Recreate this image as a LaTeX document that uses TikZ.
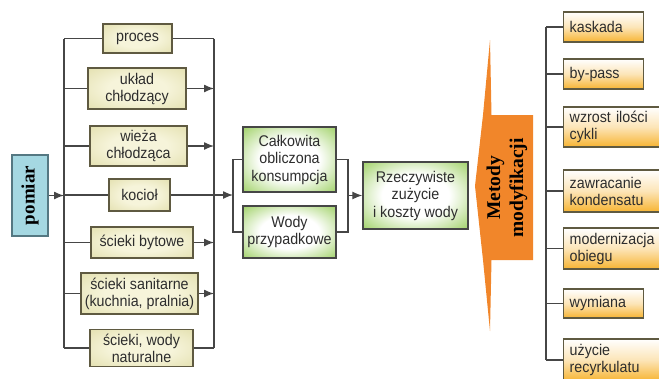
\documentclass[tikz,border=0pt]{standalone}
\usepackage{fontspec}
\setmainfont[FakeStretch=0.92]{Liberation Sans}
\newfontfamily\serifbf{Liberation Serif}
\usetikzlibrary{arrows.meta}
\definecolor{txt}{RGB}{45,45,45}
\definecolor{linec}{RGB}{70,70,70}
\definecolor{khaki}{RGB}{220,216,158}
\definecolor{khakil}{RGB}{246,244,218}
\definecolor{khakib}{RGB}{95,90,65}
\definecolor{grn}{RGB}{120,190,40}
\definecolor{orng}{RGB}{241,134,42}
\definecolor{yel}{RGB}{247,180,50}
\definecolor{blu}{RGB}{165,216,226}
\definecolor{blub}{RGB}{85,120,130}
\pgfdeclareradialshading{kshade}{\pgfpoint{0bp}{0bp}}{color(0bp)=(khakil); color(15bp)=(khakil); color(45bp)=(khaki); color(70bp)=(khaki)}
\pgfdeclareradialshading{gshade}{\pgfpoint{0bp}{0bp}}{color(0bp)=(white); color(16bp)=(white); color(44bp)=(grn); color(70bp)=(grn)}
\begin{document}
\begin{tikzpicture}[x=1pt,y=-1pt,
  font=\fontsize{15.5}{17}\selectfont,
  conn/.style={draw=linec, line width=1.3pt},
  arr/.style={conn, -{Latex[length=10pt,width=8pt]}},
  lbox/.style={draw=khakib, line width=1.4pt, shading=kshade, text=txt, align=center, inner sep=0pt},
  gbox/.style={draw=linec, line width=1.4pt, shading=gshade, text=txt, align=center, inner sep=0pt,
    font=\fontsize{15.5}{17.5}\selectfont},
  rbox/.style={draw=khakib, line width=1.4pt, top color=white, bottom color=yel, middle color=white!65!yel,
    text=txt, align=left, inner xsep=6pt, inner ysep=0pt, anchor=west},
]
\useasboundingbox (0,0) rectangle (659,378);
\clip (0,0) rectangle (659,378);

% measurement
\node[draw=blub, line width=1.2pt, fill=blu, minimum width=36pt, minimum height=81pt, inner sep=0pt]
  (pomiar) at (30,195.5) {\rotatebox{90}{\serifbf\bfseries\fontsize{19}{22}\selectfont pomiar}};

% left boxes
\node[lbox, minimum width=69pt, minimum height=29pt] (proces) at (137.5,38.5) {proces};
\node[lbox, minimum width=98pt, minimum height=41pt] (uklad) at (137,88.5) {układ\\chłodzący};
\node[lbox, minimum width=97pt, minimum height=40pt] (wieza) at (138.5,146) {wieża\\chłodząca};
\node[lbox, minimum width=61pt, minimum height=32pt] (kociol) at (139.5,195) {kocioł};
\node[lbox, minimum width=102pt, minimum height=31pt] (bytowe) at (142,242.5) {ścieki bytowe};
\node[lbox, minimum width=117pt, minimum height=41pt] (sanitarne) at (139.5,293.5) {ścieki sanitarne\\(kuchnia, pralnia)};
\node[lbox, minimum width=103pt, minimum height=37pt] (naturalne) at (141.5,348) {ścieki, wody\\naturalne};

\coordinate (LB) at (64,0);
\coordinate (RB) at (214,0);
\coordinate (BL) at (233,0);
\coordinate (BR) at (348,0);

\draw[conn] (proces.west -| LB) -- (naturalne.west -| LB);
\draw[conn] (proces.east -| RB) -- (naturalne.east -| RB);
\foreach \n in {proces,uklad,wieza,kociol,bytowe,sanitarne,naturalne}
  \draw[conn] (\n.west -| LB) -- (\n.west);
\draw[conn] (proces.east) -- (proces.east -| RB);
\draw[conn] (naturalne.east) -- (naturalne.east -| RB);
\foreach \n in {uklad,wieza,bytowe,sanitarne}
  \draw[arr] (\n.east) -- (\n.east -| RB);
\draw[arr] (pomiar.east) -- (pomiar.east -| LB);

% green boxes
\node[gbox, minimum width=93pt, minimum height=65pt] (calk) at (289.5,159.5) {Całkowita\\obliczona\\konsumpcja};
\node[gbox, minimum width=93pt, minimum height=52pt] (wody) at (289.5,232) {Wody\\przypadkowe};
\node[gbox, minimum width=105pt, minimum height=67pt] (rzecz) at (415.5,195.5) {Rzeczywiste\\zużycie\\i koszty wody};

\draw[arr] (kociol.east) -- (kociol.east -| BL);
\draw[conn] (calk.west) -- (calk.west -| BL) -- (wody.west -| BL) -- (wody.west);
\draw[conn] (calk.east) -- (calk.east -| BR) -- (wody.east -| BR) -- (wody.east);
\draw[arr] (rzecz.west -| BR) -- (rzecz.west);

% orange arrow
\fill[orng] (490,40) -- (491.5,115) -- (533,115) -- (533,260) -- (491.5,260) -- (490,331)
  -- (483,260) -- (475,186) -- (483,115) -- cycle;
\node[rotate=90, align=center, text=black, font=\serifbf\bfseries\fontsize{19.5}{23}\selectfont]
  (metody) at (507,188) {Metody\\modyfikacji};

% right boxes
\coordinate (RR) at (546,0);
\node[rbox, text width=68pt, minimum height=30pt] (kaskada) at (563,27) {kaskada};
\node[rbox, text width=68pt, minimum height=30pt] (bypass) at (563,74) {by-pass};
\node[rbox, text width=90pt, minimum height=40pt] (wzrost) at (563,127) {wzrost ilości\\cykli};
\node[rbox, text width=90pt, minimum height=42pt] (zawr) at (563,191) {zawracanie\\kondensatu};
\node[rbox, text width=90pt, minimum height=41pt] (modern) at (563,248.5) {modernizacja\\obiegu};
\node[rbox, text width=68pt, minimum height=29pt] (wymiana) at (563,303.5) {wymiana};
\node[rbox, text width=90pt, minimum height=42pt] (uzycie) at (563,360) {użycie\\recyrkulatu};

\draw[conn] (kaskada.west -| RR) -- (uzycie.west -| RR);
\foreach \n in {kaskada,bypass,wzrost,zawr,modern,wymiana,uzycie}
  \draw[conn] (\n.west -| RR) -- (\n.west);
\end{tikzpicture}
\end{document}
